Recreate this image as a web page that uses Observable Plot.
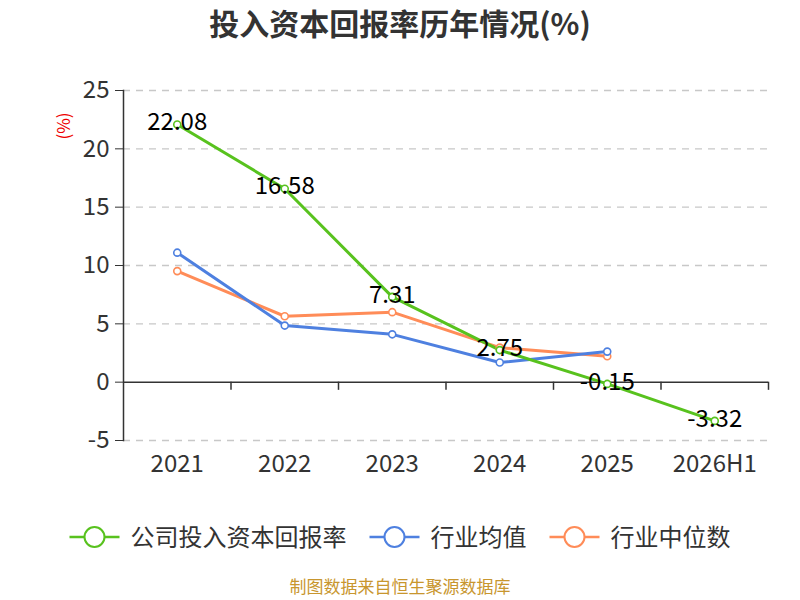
<!DOCTYPE html>
<html>
<head>
<meta charset="utf-8">
<script src="https://cdn.jsdelivr.net/npm/d3@7"></script>
<script src="https://cdn.jsdelivr.net/npm/@observablehq/plot@0.6"></script>
<style>
  html, body { margin: 0; padding: 0; background: #fff; }
  #wrap { position: relative; width: 800px; height: 600px; overflow: hidden; font-family: "Noto Sans CJK SC", "Noto Sans", sans-serif; }
  #title { position: absolute; top: 0px; left: 0; width: 800px; text-align: center; font-size: 30px; font-weight: bold; color: #333; }
  #unit { position: absolute; left: 62px; top: 126px; transform: translate(-50%, -50%) rotate(-90deg); color: #e00; font-size: 17px; white-space: nowrap; }
  #chart { position: absolute; top: 0; left: 0; }
  #legend { position: absolute; top: 518px; left: 0; width: 800px; }
  #caption { position: absolute; top: 576px; left: 0; width: 800px; text-align: center; font-size: 17px; line-height: 20px; color: #c8962e; }
</style>
</head>
<body>
<div id="wrap">
  <div id="chart"></div>
  <div id="title">投入资本回报率历年情况(%)</div>
  <div id="unit">(%)</div>
  <div id="legend"></div>
  <div id="caption">制图数据来自恒生聚源数据库</div>
</div>
<script>
const categories = ["2021", "2022", "2023", "2024", "2025", "2026H1"];
const companyValues = [22.08, 16.58, 7.31, 2.75, -0.15, -3.32];
const industryAvg = [11.1, 4.85, 4.1, 1.68, 2.62];
const industryMedian = [9.52, 5.65, 6.0, 2.96, 2.22];
const yTicks = [-5, 0, 5, 10, 15, 20, 25];
const seriesNames = ["公司投入资本回报率", "行业均值", "行业中位数"];
const colors = ["#58c21e", "#4e80e0", "#ff8c58"];

const toRows = (vals, s) => vals.map((v, i) => ({i, v, s}));
const company = toRows(companyValues, seriesNames[0]);
const avg = toRows(industryAvg, seriesNames[1]);
const med = toRows(industryMedian, seriesNames[2]);
const boundaries = categories.map((_, i) => i + 0.5);

const font = '"Noto Sans CJK SC", "Noto Sans", sans-serif';

const chart = Plot.plot({
  width: 800,
  height: 490,
  marginTop: 90,
  marginBottom: 50,
  marginLeft: 123,
  marginRight: 32,
  style: { fontFamily: font, background: "transparent", overflow: "visible" },
  x: { domain: [-0.5, categories.length - 0.5] },
  y: { domain: [-5, 25] },
  marks: [
    Plot.gridY(yTicks.filter(d => d !== 0), { stroke: "#c8c8c8", strokeOpacity: 1, strokeWidth: 1.3, strokeDasharray: "7,6" }),
    Plot.frame({ anchor: "left", stroke: "#333", strokeWidth: 1.5 }),
    Plot.axisY({ ticks: yTicks, tickSize: 8, tickPadding: 6, fontSize: 24, color: "#333", label: null, tickFormat: d => String(d) }),
    Plot.axisX({ ticks: categories.map((_, i) => i), tickFormat: i => categories[i], tickSize: 0, tickPadding: 14, fontSize: 24, color: "#333", label: null }),
    Plot.ruleY([0], { stroke: "#333", strokeWidth: 1.5 }),
    Plot.ruleX(boundaries, { y1: 0, y2: -0.7, stroke: "#333", strokeWidth: 1.5 }),
    Plot.line(med, { x: "i", y: "v", stroke: colors[2], strokeWidth: 3 }),
    Plot.line(avg, { x: "i", y: "v", stroke: colors[1], strokeWidth: 3 }),
    Plot.line(company, { x: "i", y: "v", stroke: colors[0], strokeWidth: 3 }),
    Plot.dot(med, { x: "i", y: "v", r: 3.5, fill: "#fff", stroke: colors[2], strokeWidth: 1.6 }),
    Plot.dot(avg, { x: "i", y: "v", r: 3.5, fill: "#fff", stroke: colors[1], strokeWidth: 1.6 }),
    Plot.dot(company, { x: "i", y: "v", r: 3.5, fill: "#fff", stroke: colors[0], strokeWidth: 1.6 }),
    Plot.text(company, { x: "i", y: "v", text: d => d.v.toFixed(2), fontSize: 24, fill: "#000", dy: -2 })
  ]
});
document.getElementById("chart").appendChild(chart);

// Legend
const lg = d3.select("#legend").append("svg").attr("width", 800).attr("height", 40);
const itemWidths = [];
const tmp = lg.append("text").attr("font-size", 24).attr("font-family", font);
seriesNames.forEach(n => { tmp.text(n); itemWidths.push(tmp.node().getComputedTextLength()); });
tmp.remove();
const symW = 50, gapSym = 11, gapItem = 23;
const total = d3.sum(itemWidths) + seriesNames.length * (symW + gapSym) + gapItem * (seriesNames.length - 1);
let xx = (800 - total) / 2;
const cy = 19;
seriesNames.forEach((n, k) => {
  const g = lg.append("g").attr("transform", `translate(${xx},0)`);
  g.append("line").attr("x1", 0).attr("x2", symW).attr("y1", cy).attr("y2", cy).attr("stroke", colors[k]).attr("stroke-width", 2.5);
  g.append("circle").attr("cx", symW / 2).attr("cy", cy).attr("r", 10).attr("fill", "#fff").attr("stroke", colors[k]).attr("stroke-width", 2);
  g.append("text").attr("x", symW + gapSym).attr("y", cy).attr("dy", "0.36em").attr("font-size", 24).attr("font-family", font).attr("fill", "#333").text(n);
  xx += symW + gapSym + itemWidths[k] + gapItem;
});
</script>
</body>
</html>
